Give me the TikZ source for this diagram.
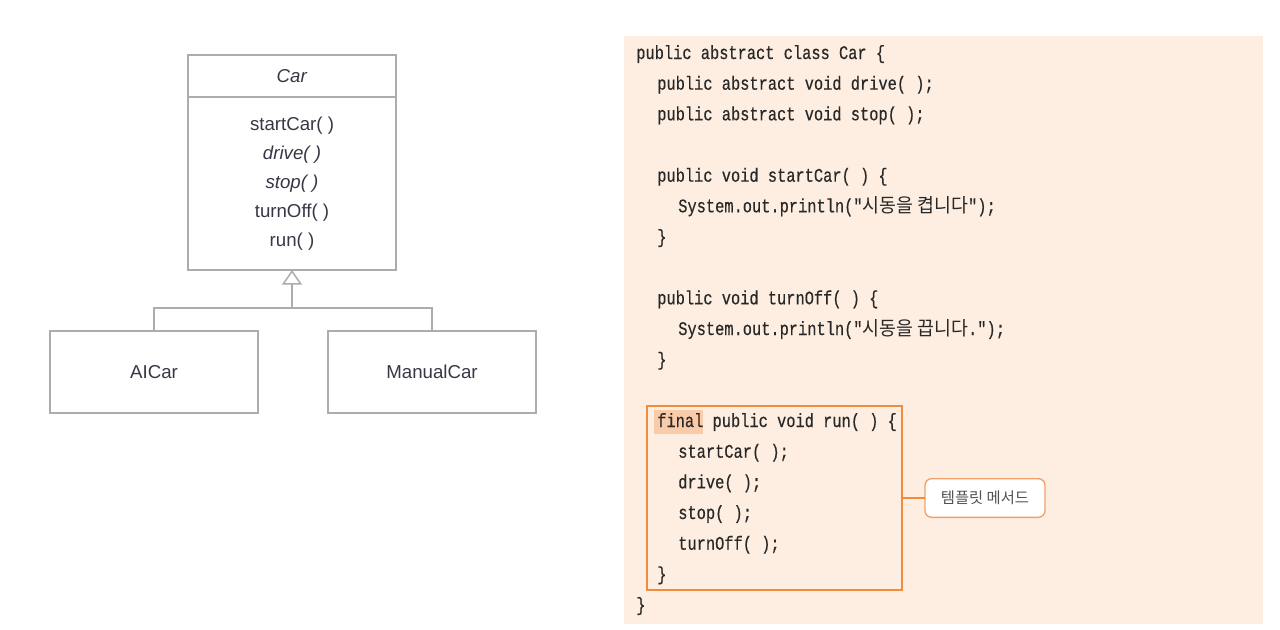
\documentclass[tikz,border=0pt]{standalone}
\usepackage{fontspec}
\setmainfont{Liberation Sans}
\newfontfamily\codefont[FakeStretch=0.8,FakeBold=0.4]{Liberation Mono}
\newfontfamily\krcode[FakeStretch=0.95]{Noto Sans CJK KR}
\newfontfamily\krfont{Noto Sans CJK KR}
\usetikzlibrary{arrows.meta,positioning}

\definecolor{umlgray}{RGB}{172,172,172}
\definecolor{umltext}{RGB}{55,55,70}
\definecolor{codebg}{RGB}{253,238,225}
\definecolor{codeorange}{RGB}{240,140,60}
\definecolor{tagorange}{RGB}{242,160,105}
\definecolor{finalbg}{RGB}{249,203,168}
\definecolor{codetext}{RGB}{40,40,40}

\newcommand{\kr}[1]{{\krcode\fontsize{14.5}{16}\selectfont #1}}

\begin{document}
\begin{tikzpicture}[x=0.75pt,y=-0.75pt,
	umlbox/.style={draw=umlgray,line width=1.1pt,minimum width=156pt,inner sep=0pt,outer sep=0pt,
		font=\fontsize{14}{21.75}\selectfont,text=umltext},
	umlline/.style={draw=umlgray,line width=1.1pt},
	codeline/.style={anchor=base west,inner sep=0pt,
		font=\codefont\fontsize{14.4}{16}\selectfont,text=codetext},
	runframe/.style={draw=codeorange,line width=1.2pt,inner sep=0pt,outer sep=0pt},
	tagbox/.style={draw=tagorange,fill=white,line width=1pt,rounded corners=5pt,outer sep=0pt,
		minimum width=90pt,minimum height=29pt,
		font=\krfont\fontsize{11.5}{13}\selectfont,text=black!68}]
	\path[use as bounding box,fill=white] (0,0) rectangle (1280,629);
	
	% class diagram
	\node[umlbox,minimum height=31.5pt,anchor=north west] (carname) at (188,55) {\textit{Car}};
	\node[umlbox,minimum height=129.75pt,anchor=north,align=center] (carbody) at (carname.south)
		{startCar( )\\ \textit{drive( )}\\ \textit{stop( )}\\ turnOff( )\\ run( )};
	\node[umlbox,minimum height=61.5pt,anchor=north west] (aicar) at (50,331) {AICar};
	\node[umlbox,minimum height=61.5pt,anchor=north west] (manualcar) at (328,331) {ManualCar};
	
	\coordinate (join) at (292,308);
	\draw[umlline] (aicar.north) |- (join) -| (manualcar.north);
	\draw[umlline,-{Triangle[open,width=15pt,length=11pt]}] (join) -- (carbody.south);
	
	% code
	\fill[codebg] (624,36) rectangle (1263,624);
	\fill[finalbg] (654,410) rectangle (703,434);
	
	\node[codeline] (l1) at (636,59) {public abstract class Car \{};
	\node[codeline] (l2) at (657,89.7) {public abstract void drive( );};
	\node[codeline] (l3) at (657,120.3) {public abstract void stop( );};
	
	\node[codeline] (l4) at (657,181.7) {public void startCar( ) \{};
	\node[codeline] (l5) at (678,212.3) {System.out.println("\kr{시동을 켭니다}");};
	\node[codeline] (l6) at (657,243) {\}};
	
	\node[codeline] (l7) at (657,304.3) {public void turnOff( ) \{};
	\node[codeline] (l8) at (678,335) {System.out.println("\kr{시동을 끕니다}.");};
	\node[codeline] (l9) at (657,365.7) {\}};
	
	\node[codeline] (l10) at (657,427) {final public void run( ) \{};
	\node[codeline] (l11) at (678,457.7) {startCar( );};
	\node[codeline] (l12) at (678,488.3) {drive( );};
	\node[codeline] (l13) at (678,519) {stop( );};
	\node[codeline] (l14) at (678,549.7) {turnOff( );};
	\node[codeline] (l15) at (657,580.3) {\}};
	\node[codeline] (l16) at (636,611) {\}};
	
	\node[runframe,minimum width=191.25pt,minimum height=138pt,anchor=north west] (runbox) at (647,406) {};
	\node[tagbox,right=17.25pt of runbox] (tmpl) {템플릿 메서드};
	\draw[codeorange,line width=1.2pt] (runbox.east) -- (tmpl.west);
\end{tikzpicture}
\end{document}
